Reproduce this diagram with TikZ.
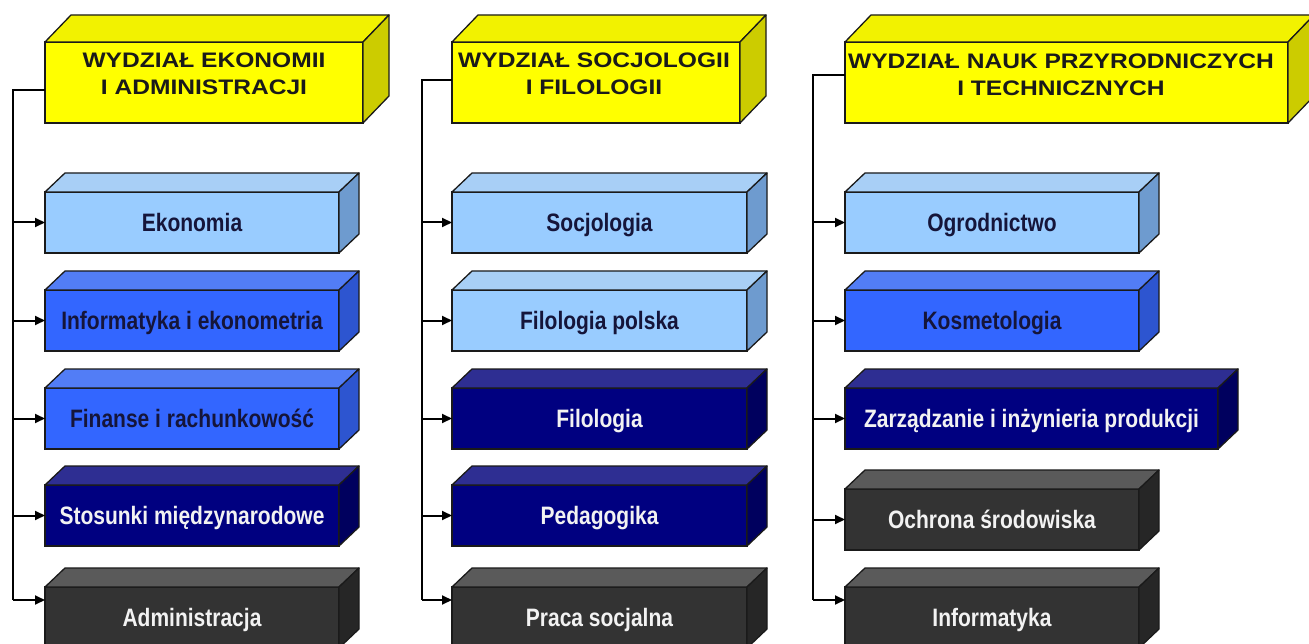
\documentclass[tikz,border=0pt]{standalone}
\usepackage{fontspec}
\setmainfont{Liberation Sans}
\usepackage{graphicx}
\usetikzlibrary{arrows.meta,calc}
\definecolor{edgec}{HTML}{1A1A1A}
\definecolor{yF}{HTML}{FFFF00}
\definecolor{yT}{HTML}{F2F200}
\definecolor{yS}{HTML}{CCCC00}
\definecolor{lF}{HTML}{99CCFF}
\definecolor{lT}{HTML}{A8CFF6}
\definecolor{lS}{HTML}{6E9BCF}
\definecolor{mF}{HTML}{3366FF}
\definecolor{mT}{HTML}{527DF6}
\definecolor{mS}{HTML}{2D55D0}
\definecolor{nF}{HTML}{000080}
\definecolor{nT}{HTML}{2E2E92}
\definecolor{nS}{HTML}{00005E}
\definecolor{gF}{HTML}{333333}
\definecolor{gT}{HTML}{5A5A5A}
\definecolor{gS}{HTML}{262626}
\definecolor{darktxt}{HTML}{15153A}
\definecolor{lighttxt}{HTML}{F2F2F2}
\newcommand\stx[1]{\scalebox{1}[1.2]{#1}}
\newcommand\htx[1]{\scalebox{1.17}[1]{#1}}
\newcommand\slabfaces[5]{%
  \filldraw[draw=edgec, line width=1.3pt, line join=round, fill=#4]
    (#1.north west) -- ++(#2,-#3) -- ($(#1.north east)+(#2,-#3)$) -- (#1.north east) -- cycle;
  \filldraw[draw=edgec, line width=1.3pt, line join=round, fill=#5]
    (#1.north east) -- ++(#2,-#3) -- ($(#1.south east)+(#2,-#3)$) -- (#1.south east) -- cycle;}
\tikzset{
  slab/.style={draw=edgec, line width=1.3pt, outer sep=0pt, inner sep=0pt, anchor=north west,
    minimum height=61pt, text height=18pt, text depth=0pt,
    font=\fontsize{21}{24}\selectfont\bfseries},
  lightbox/.style={slab, fill=lF, text=darktxt},
  medbox/.style={slab, fill=mF, text=darktxt},
  navybox/.style={slab, fill=nF, text=lighttxt},
  greybox/.style={slab, fill=gF, text=lighttxt},
  headbox/.style={draw=edgec, line width=1.3pt, outer sep=0pt, inner sep=0pt, anchor=north west,
    minimum height=81pt, fill=yF},
  headtext/.style={align=center, text=edgec, inner sep=0pt, font=\fontsize{21}{27}\selectfont\bfseries},
  conn/.style={line width=2pt, black},
  arr/.style={conn, -{Triangle[length=10pt,width=9pt]}},
}
\begin{document}
\begin{tikzpicture}[x=1pt,y=-1pt]
\useasboundingbox (0,0) rectangle (1309,644);
\fill[white] (0,0) rectangle (1309,644);

% ---------- Column 1 ----------
\node[headbox, minimum width=318pt] (h1) at (45,42) {};
\slabfaces{h1}{26}{27}{yT}{yS}
\node[headtext] (h1t) at (204,74) {\htx{WYDZIAŁ EKONOMII}\\\htx{I ADMINISTRACJI}};

\node[lightbox, minimum width=294pt] (a1) at (45,192) {\stx{Ekonomia}};
\slabfaces{a1}{20}{19}{lT}{lS}
\node[medbox, minimum width=294pt] (a2) at (45,290) {\stx{Informatyka i ekonometria}};
\slabfaces{a2}{20}{19}{mT}{mS}
\node[medbox, minimum width=294pt] (a3) at (45,388) {\stx{Finanse i rachunkowość}};
\slabfaces{a3}{20}{19}{mT}{mS}
\node[navybox, minimum width=294pt] (a4) at (45,485) {\stx{Stosunki międzynarodowe}};
\slabfaces{a4}{20}{19}{nT}{nS}
\node[greybox, minimum width=294pt] (a5) at (45,587) {\stx{Administracja}};
\slabfaces{a5}{20}{19}{gT}{gS}

\coordinate (t1) at (13,600);
\draw[conn] ([yshift=-7.5pt]h1.west) -| (t1);
\foreach \b in {a1,a2,a3,a4}{\draw[arr] (\b.west -| t1) -- (\b.west);}
\draw[arr] (t1) -- (t1 -| a5.west);

% ---------- Column 2 ----------
\node[headbox, minimum width=288pt] (h2) at (452,42) {};
\slabfaces{h2}{26}{27}{yT}{yS}
\node[headtext] (h2t) at (594,74) {\htx{WYDZIAŁ SOCJOLOGII}\\\htx{I FILOLOGII}};

\node[lightbox, minimum width=295pt] (b1) at (452,192) {\stx{Socjologia}};
\slabfaces{b1}{20}{19}{lT}{lS}
\node[lightbox, minimum width=295pt] (b2) at (452,290) {\stx{Filologia polska}};
\slabfaces{b2}{20}{19}{lT}{lS}
\node[navybox, minimum width=295pt] (b3) at (452,388) {\stx{Filologia}};
\slabfaces{b3}{20}{19}{nT}{nS}
\node[navybox, minimum width=295pt] (b4) at (452,485) {\stx{Pedagogika}};
\slabfaces{b4}{20}{19}{nT}{nS}
\node[greybox, minimum width=295pt] (b5) at (452,587) {\stx{Praca socjalna}};
\slabfaces{b5}{20}{19}{gT}{gS}

\coordinate (t2) at (422,600);
\draw[conn] ([yshift=2.5pt]h2.west) -| (t2);
\foreach \b in {b1,b2,b3,b4}{\draw[arr] (\b.west -| t2) -- (\b.west);}
\draw[arr] (t2) -- (t2 -| b5.west);

% ---------- Column 3 ----------
\node[headbox, minimum width=443pt] (h3) at (845,42) {};
\slabfaces{h3}{26}{27}{yT}{yS}
\node[headtext] (h3t) at (1061,75) {\htx{WYDZIAŁ NAUK PRZYRODNICZYCH}\\\htx{I TECHNICZNYCH}};

\node[lightbox, minimum width=294pt] (c1) at (845,192) {\stx{Ogrodnictwo}};
\slabfaces{c1}{20}{19}{lT}{lS}
\node[medbox, minimum width=294pt] (c2) at (845,290) {\stx{Kosmetologia}};
\slabfaces{c2}{20}{19}{mT}{mS}
\node[navybox, minimum width=373pt] (c3) at (845,388) {\stx{Zarządzanie i inżynieria produkcji}};
\slabfaces{c3}{20}{19}{nT}{nS}
\node[greybox, minimum width=294pt] (c4) at (845,489) {\stx{Ochrona środowiska}};
\slabfaces{c4}{20}{19}{gT}{gS}
\node[greybox, minimum width=294pt] (c5) at (845,587) {\stx{Informatyka}};
\slabfaces{c5}{20}{19}{gT}{gS}

\coordinate (t3) at (813,600);
\draw[conn] ([yshift=7.5pt]h3.west) -| (t3);
\foreach \b in {c1,c2,c3,c4}{\draw[arr] (\b.west -| t3) -- (\b.west);}
\draw[arr] (t3) -- (t3 -| c5.west);
\end{tikzpicture}
\end{document}
